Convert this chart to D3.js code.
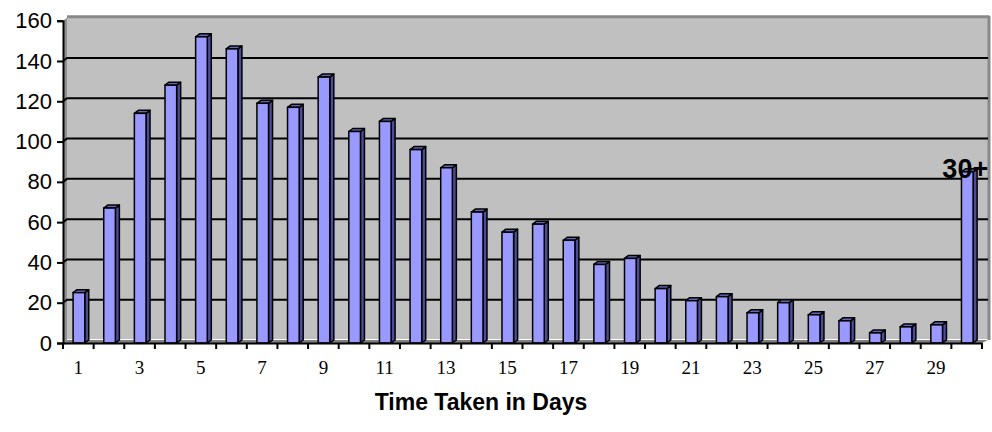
<!DOCTYPE html>
<html><head><meta charset="utf-8">
<script src="https://cdn.jsdelivr.net/npm/d3@7"></script>
<style>body{margin:0;background:#fff}svg{display:block}</style>
</head><body><svg id="c" width="992" height="432"></svg>
<script>
const categories = ["1","2","3","4","5","6","7","8","9","10","11","12","13","14","15","16","17","18","19","20","21","22","23","24","25","26","27","28","29","30+"];
const values = [25,67,114,128,152,146,119,117,132,105,110,96,87,65,55,59,51,39,42,27,21,23,15,20,14,11,5,8,9,85];
const yTicks = [0,20,40,60,80,100,120,140,160];
const xTickLabels = ["1","3","5","7","9","11","13","15","17","19","21","23","25","27","29"];
const xTitle = "Time Taken in Days";
const annotation = "30+";

(function(){
const svg = d3.select("#c");
const pL = 63, pR = 982, pT = 20.7, pB = 343;
const dx = 4, dy = -3;
const x = d3.scaleBand().domain(categories).range([pL, pR]);
const y = d3.scaleLinear().domain([0,160]).range([pB, pT]);

// back wall
svg.append("rect").attr("x", pL+dx).attr("y", pT+dy-1).attr("width", pR-pL+2).attr("height", pB-pT)
  .attr("fill","#c0c0c0");
// left wall
svg.append("path").attr("d", `M${pL},${pT} L${pL+dx},${pT+dy} L${pL+dx},${pB+dy} L${pL},${pB} Z`).attr("fill","#909090");
// floor
svg.append("path").attr("d", `M${pL},${pB} L${pL+dx},${pB+dy} L${pR+dx+2},${pB+dy} L${pR},${pB} Z`).attr("fill","#808080");
// border top / right
svg.append("line").attr("x1",pL+dx).attr("x2",pR+dx+3).attr("y1",pT+dy-1).attr("y2",pT+dy-1).attr("stroke","#888").attr("stroke-width",3);
svg.append("line").attr("x1",pR+dx+3).attr("x2",pR+dx+3).attr("y1",pT+dy-2).attr("y2",pB+dy).attr("stroke","#888").attr("stroke-width",3);

// gridlines
const g = svg.append("g");
yTicks.filter(t=>t>0 && t<160).forEach(t=>{
  g.append("path").attr("d", `M${pL},${y(t)} L${pL+dx},${y(t)+dy} L${pR+dx+2},${y(t)+dy}`)
    .attr("fill","none").attr("stroke","#000").attr("stroke-width",2);
});

// bars
const bw = x.bandwidth();
const bars = svg.append("g").selectAll("g").data(categories.map((c,i)=>({c, v: values[i]}))).join("g");
bars.each(function(d){
  const sel = d3.select(this);
  const x0 = x(d.c) + bw*0.33, w = bw*0.38, y0 = y(d.v), y1 = y(0);
  sel.append("path").attr("d", `M${x0+w},${y1} L${x0+w+dx},${y1+dy} L${x0+w+dx},${y0+dy} L${x0+w},${y0} Z`)
    .attr("fill","#4c4c99").attr("stroke","#000").attr("stroke-width",1.5).attr("stroke-linejoin","round");
  sel.append("path").attr("d", `M${x0},${y0} L${x0+dx},${y0+dy} L${x0+w+dx},${y0+dy} L${x0+w},${y0} Z`)
    .attr("fill","#6666b3").attr("stroke","#000").attr("stroke-width",1.5).attr("stroke-linejoin","round");
  sel.append("rect").attr("x",x0).attr("y",y0).attr("width",w).attr("height",y1-y0)
    .attr("fill","#9999ff").attr("stroke","#000").attr("stroke-width",1.5);
});

// y axis
const ya = svg.append("g").attr("transform",`translate(${pL},0)`)
  .call(d3.axisLeft(y).tickValues(yTicks).tickSize(6).tickPadding(5));
ya.select(".domain").attr("stroke","#000").attr("stroke-width",2);
ya.selectAll(".tick line").attr("stroke","#000").attr("stroke-width",2);
ya.selectAll("text").attr("font-family","Liberation Sans, Arial, sans-serif").attr("font-size",22).attr("fill","#000");

// x axis
const xa = svg.append("g").attr("transform",`translate(0,${pB})`)
  .call(d3.axisBottom(x).tickSize(0).tickPadding(18).tickFormat(c => xTickLabels.includes(c) ? c : ""));
xa.select(".domain").attr("stroke","#000").attr("stroke-width",2);
xa.selectAll("text").attr("font-family","Liberation Serif, Times New Roman, serif").attr("font-size",19).attr("fill","#000");
const boundaries = categories.map(c=>x(c)).concat([pR]);
xa.selectAll("line.bt").data(boundaries).join("line").attr("class","bt")
  .attr("x1",d=>d).attr("x2",d=>d).attr("y1",0).attr("y2",6).attr("stroke","#000").attr("stroke-width",2);

// title
svg.append("text").attr("x",481).attr("y",410).attr("text-anchor","middle")
  .attr("font-family","Liberation Sans, Arial, sans-serif").attr("font-weight","bold").attr("font-size",23).text(xTitle);

// annotation
const last = categories[categories.length-1];
svg.append("text").attr("x", x(last)-9).attr("y", y(values[values.length-1])+6).attr("text-anchor","start")
  .attr("font-family","Liberation Sans, Arial, sans-serif").attr("font-weight","bold").attr("font-size",27).text(annotation);
})();
</script></body></html>
